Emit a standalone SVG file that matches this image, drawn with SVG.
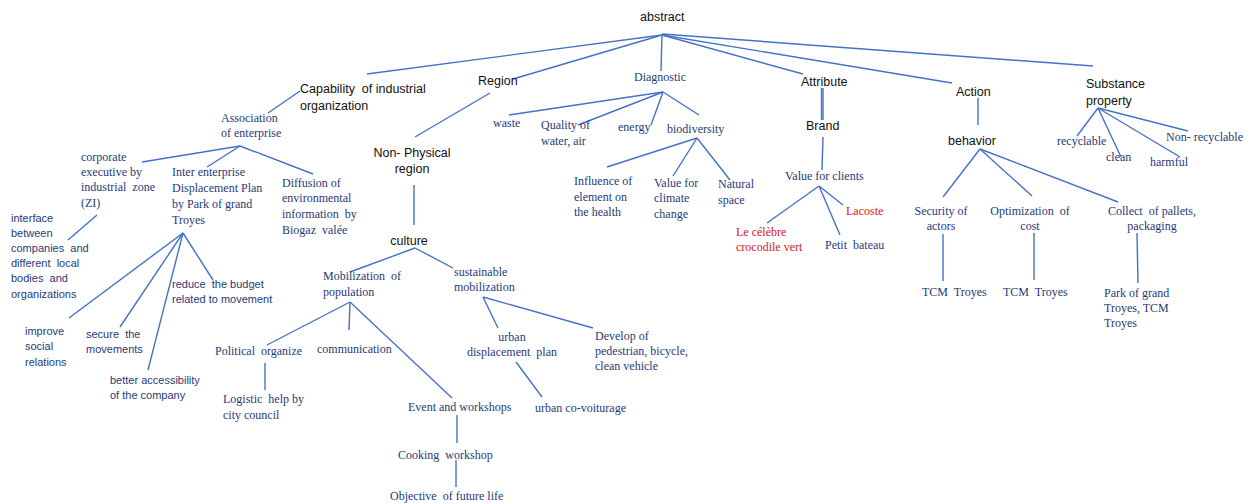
<svg xmlns="http://www.w3.org/2000/svg" width="1253" height="503" viewBox="0 0 1253 503">
<style>
text{white-space:pre}
.k{font-family:"Liberation Sans",Arial,sans-serif;font-size:12.5px;fill:#111}
.b{font-family:"Liberation Serif","Times New Roman",serif;font-size:12px;fill:#1F3A78}
.s{font-family:"Liberation Sans",Arial,sans-serif;font-size:11px;fill:#1F3A78}
.r{font-family:"Liberation Serif","Times New Roman",serif;font-size:12px;fill:#D42020}
.m{text-anchor:middle}
#connectors line{stroke:#4472C4;stroke-width:1.4;fill:none}
</style>
<rect width="1253" height="503" fill="#fff"/>
<g id="connectors">
<line x1="662" y1="35" x2="367" y2="74"/>
<line x1="662" y1="35" x2="513" y2="79"/>
<line x1="662" y1="35" x2="661" y2="71"/>
<line x1="662" y1="35" x2="803" y2="74"/>
<line x1="662" y1="35" x2="952" y2="83"/>
<line x1="662" y1="34" x2="1093" y2="66"/>
<line x1="300" y1="91" x2="268" y2="113"/>
<line x1="240" y1="146" x2="142" y2="162"/>
<line x1="240" y1="146" x2="207" y2="167"/>
<line x1="240" y1="146" x2="313" y2="174"/>
<line x1="97" y1="215" x2="68" y2="240"/>
<line x1="183" y1="233" x2="69" y2="318"/>
<line x1="183" y1="233" x2="120" y2="327"/>
<line x1="183" y1="233" x2="148" y2="370"/>
<line x1="183" y1="233" x2="213" y2="280"/>
<line x1="490" y1="93" x2="415" y2="137"/>
<line x1="414" y1="185" x2="414" y2="225"/>
<line x1="415" y1="248" x2="350" y2="272"/>
<line x1="415" y1="248" x2="453" y2="268"/>
<line x1="350" y1="302" x2="267" y2="345"/>
<line x1="350" y1="302" x2="349" y2="330"/>
<line x1="350" y1="302" x2="452" y2="398"/>
<line x1="265" y1="363" x2="265" y2="390"/>
<line x1="457" y1="415" x2="457" y2="443"/>
<line x1="456" y1="460" x2="456" y2="487"/>
<line x1="483" y1="297" x2="498" y2="328"/>
<line x1="483" y1="297" x2="593" y2="328"/>
<line x1="516" y1="362" x2="542" y2="397"/>
<line x1="663" y1="92" x2="509" y2="115"/>
<line x1="663" y1="92" x2="578" y2="125"/>
<line x1="663" y1="92" x2="651" y2="125"/>
<line x1="663" y1="92" x2="699" y2="115"/>
<line x1="697" y1="138" x2="607" y2="167"/>
<line x1="697" y1="138" x2="673" y2="176"/>
<line x1="697" y1="138" x2="730" y2="180"/>
<line x1="821.5" y1="88" x2="821.5" y2="120"/>
<line x1="823" y1="88" x2="823" y2="120"/>
<line x1="823" y1="137" x2="822" y2="170"/>
<line x1="819" y1="186" x2="767" y2="223"/>
<line x1="819" y1="186" x2="840" y2="235"/>
<line x1="819" y1="186" x2="843" y2="205"/>
<line x1="978" y1="98" x2="978" y2="125"/>
<line x1="980" y1="149" x2="943" y2="197"/>
<line x1="980" y1="149" x2="1032" y2="196"/>
<line x1="980" y1="149" x2="1118" y2="202"/>
<line x1="943" y1="234" x2="943" y2="281"/>
<line x1="1034" y1="233" x2="1034" y2="280"/>
<line x1="1137" y1="233" x2="1138" y2="283"/>
<line x1="1098" y1="108" x2="1077" y2="136"/>
<line x1="1098" y1="108" x2="1121" y2="157"/>
<line x1="1098" y1="108" x2="1180" y2="157"/>
<line x1="1098" y1="108" x2="1188" y2="131"/>
</g>
<g id="n-abstract"><text class="k" x="640" y="21">abstract</text></g>
<g id="n-capability"><text class="k" x="300" y="93">Capability  of industrial</text><text class="k" x="300" y="110">organization</text></g>
<g id="n-association"><text class="b" x="221" y="122">Association</text><text class="b" x="221" y="137">of enterprise</text></g>
<g id="n-corporate"><text class="b" x="81" y="161">corporate</text><text class="b" x="81" y="176">executive by</text><text class="b" x="81" y="191">industrial  zone</text><text class="b" x="81" y="207">(ZI)</text></g>
<g id="n-interface"><text class="s" x="11" y="222">interface</text><text class="s" x="11" y="237">between</text><text class="s" x="11" y="252">companies  and</text><text class="s" x="11" y="267">different  local</text><text class="s" x="11" y="282">bodies  and</text><text class="s" x="11" y="298">organizations</text></g>
<g id="n-inter"><text class="b" x="172" y="176">Inter enterprise</text><text class="b" x="172" y="192">Displacement Plan</text><text class="b" x="172" y="208">by Park of grand</text><text class="b" x="172" y="224">Troyes</text></g>
<g id="n-diffusion"><text class="b" x="282" y="187">Diffusion of</text><text class="b" x="282" y="202">environmental</text><text class="b" x="282" y="218">information  by</text><text class="b" x="282" y="234">Biogaz  valée</text></g>
<g id="n-improve"><text class="s" x="25" y="335">improve</text><text class="s" x="25" y="350">social</text><text class="s" x="25" y="366">relations</text></g>
<g id="n-secure"><text class="s" x="86" y="338">secure  the</text><text class="s" x="86" y="353">movements</text></g>
<g id="n-better"><text class="s" x="110" y="384">better accessibility</text><text class="s" x="110" y="399">of the company</text></g>
<g id="n-reduce"><text class="s" x="172" y="288">reduce  the budget</text><text class="s" x="172" y="303">related to movement</text></g>
<g id="n-region"><text class="k" x="478" y="85">Region</text></g>
<g id="n-nonphysical"><text class="k m" x="412" y="157">Non- Physical</text><text class="k m" x="412" y="173">region</text></g>
<g id="n-culture"><text class="k m" x="409" y="245">culture</text></g>
<g id="n-mobilization"><text class="b" x="323" y="280">Mobilization  of</text><text class="b" x="323" y="296">population</text></g>
<g id="n-sustainable"><text class="b" x="454" y="276">sustainable</text><text class="b" x="454" y="291">mobilization</text></g>
<g id="n-political"><text class="b" x="215" y="355">Political  organize</text></g>
<g id="n-communication"><text class="b" x="317" y="353">communication</text></g>
<g id="n-logistic"><text class="b" x="223" y="403">Logistic  help by</text><text class="b" x="223" y="419">city council</text></g>
<g id="n-event"><text class="b" x="408" y="411">Event and workshops</text></g>
<g id="n-cooking"><text class="b" x="398" y="459">Cooking  workshop</text></g>
<g id="n-objective"><text class="b" x="390" y="500">Objective  of future life</text></g>
<g id="n-urban"><text class="b m" x="512" y="341">urban</text><text class="b m" x="512" y="356">displacement  plan</text></g>
<g id="n-covoiturage"><text class="b" x="535" y="412">urban co-voiturage</text></g>
<g id="n-develop"><text class="b" x="595" y="340">Develop of</text><text class="b" x="595" y="355">pedestrian, bicycle,</text><text class="b" x="595" y="370">clean vehicle</text></g>
<g id="n-diagnostic"><text class="b" x="634" y="81">Diagnostic</text></g>
<g id="n-waste"><text class="b" x="493" y="127">waste</text></g>
<g id="n-quality"><text class="b" x="541" y="129">Quality of</text><text class="b" x="541" y="145">water, air</text></g>
<g id="n-energy"><text class="b" x="618" y="131">energy</text></g>
<g id="n-biodiversity"><text class="b" x="667" y="133">biodiversity</text></g>
<g id="n-influence"><text class="b" x="574" y="185">Influence of</text><text class="b" x="574" y="201">element on</text><text class="b" x="574" y="216">the health</text></g>
<g id="n-climate"><text class="b" x="654" y="187">Value for</text><text class="b" x="654" y="202">climate</text><text class="b" x="654" y="218">change</text></g>
<g id="n-natural"><text class="b" x="718" y="188">Natural</text><text class="b" x="718" y="204">space</text></g>
<g id="n-attribute"><text class="k" x="801" y="86">Attribute</text></g>
<g id="n-brand"><text class="k" x="806" y="130">Brand</text></g>
<g id="n-value"><text class="b" x="785" y="180">Value for clients</text></g>
<g id="n-crocodile"><text class="r" x="736" y="236">Le célèbre</text><text class="r" x="736" y="251">crocodile vert</text></g>
<g id="n-lacoste"><text class="r" x="846" y="215">Lacoste</text></g>
<g id="n-petit"><text class="b" x="825" y="249">Petit  bateau</text></g>
<g id="n-action"><text class="k" x="956" y="96">Action</text></g>
<g id="n-behavior"><text class="k" x="948" y="145">behavior</text></g>
<g id="n-security"><text class="b m" x="941" y="215">Security of</text><text class="b m" x="941" y="230">actors</text></g>
<g id="n-optimization"><text class="b m" x="1030" y="215">Optimization  of</text><text class="b m" x="1030" y="230">cost</text></g>
<g id="n-collect"><text class="b m" x="1152" y="215">Collect  of pallets,</text><text class="b m" x="1152" y="230">packaging</text></g>
<g id="n-tcm1"><text class="b" x="922" y="296">TCM  Troyes</text></g>
<g id="n-tcm2"><text class="b" x="1003" y="296">TCM  Troyes</text></g>
<g id="n-park"><text class="b" x="1104" y="297">Park of grand</text><text class="b" x="1104" y="312">Troyes, TCM</text><text class="b" x="1104" y="327">Troyes</text></g>
<g id="n-substance"><text class="k" x="1086" y="88">Substance</text><text class="k" x="1086" y="105">property</text></g>
<g id="n-recyclable"><text class="b" x="1057" y="145">recyclable</text></g>
<g id="n-clean"><text class="b" x="1106" y="161">clean</text></g>
<g id="n-harmful"><text class="b" x="1150" y="166">harmful</text></g>
<g id="n-nonrecyclable"><text class="b" x="1166" y="141">Non- recyclable</text></g>
</svg>
